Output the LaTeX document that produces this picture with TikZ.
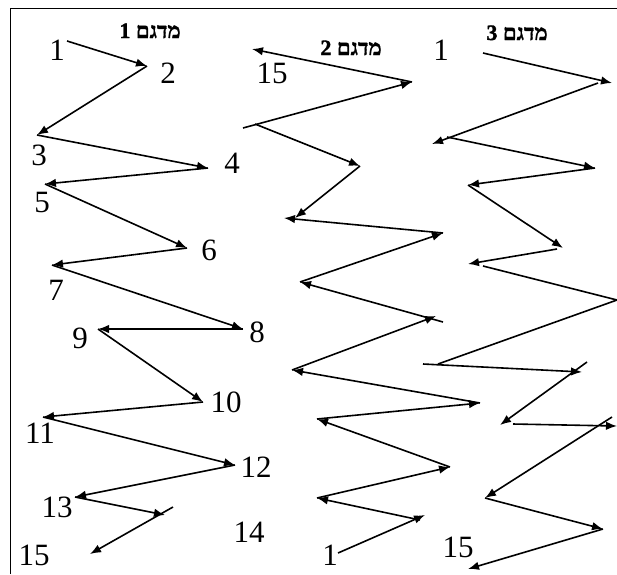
\documentclass[tikz,border=0pt]{standalone}
\usepackage{fontspec}
\setmainfont{Liberation Serif}
\newfontfamily\hebfont[Script=Hebrew,FakeBold=1.5]{Liberation Serif Bold}
\TeXXeTstate=1
\usetikzlibrary{arrows.meta}
\begin{document}
\begin{tikzpicture}[x=1pt,y=-1pt,
  ln/.style={line width=1.6pt},
  arr/.style={line width=1.6pt,-{Latex[length=11pt,width=8.5pt]}},
  num/.style={anchor=base,inner sep=0pt,font=\fontsize{31}{31}\selectfont},
  ttl/.style={anchor=base,inner sep=0pt,font=\hebfont\fontsize{22}{22}\selectfont}]
\useasboundingbox (0,0) rectangle (617,574);
% frame
\coordinate (fb) at (10,574);
\coordinate (ftl) at (10,8);
\coordinate (ftr) at (617,8);
\draw[line width=1pt] (fb) -- (ftl) -- (ftr);
% titles
\node[ttl] (t1) at (150,38) {\beginR מדגם 1\endR};
\node[ttl] (t2) at (351,55) {\beginR מדגם 2\endR};
\node[ttl] (t3) at (517,40) {\beginR מדגם 3\endR};
% ---------- pattern 1 ----------
\node[num] (n1) at (57,60) {1};
\node[num] (n2) at (168,83) {2};
\node[num] (n3) at (39,165) {3};
\node[num] (n4) at (232,173) {4};
\node[num] (n5) at (42,212) {5};
\node[num] (n6) at (209,260) {6};
\node[num] (n7) at (56,300) {7};
\node[num] (n8) at (257,342) {8};
\node[num] (n9) at (80,348) {9};
\node[num] (n10) at (226,412) {10};
\node[num] (n11) at (40,443) {11};
\node[num] (n12) at (256,477) {12};
\node[num] (n13) at (57,517) {13};
\node[num] (n14) at (249,542) {14};
\node[num] (n15) at (34,565) {15};
\coordinate (a1) at (67,41);
\coordinate (a2) at (147,66);
\coordinate (a3) at (37,135);
\coordinate (a4) at (208,168);
\coordinate (a5) at (45,184);
\coordinate (a6) at (187,248);
\coordinate (a7) at (52,265);
\coordinate (a8) at (243,329);
\coordinate (a9) at (98,329);
\coordinate (a10) at (203,402);
\coordinate (a11) at (43,417);
\coordinate (a12) at (235,465);
\coordinate (a13) at (75,497);
\coordinate (a14) at (165,515);
\coordinate (a14s) at (173,507);
\coordinate (a15) at (90,554);
\draw[arr] (a1) -- (a2);
\draw[arr] (a2) -- (a3);
\draw[arr] (a3) -- (a4);
\draw[arr] (a4) -- (a5);
\draw[arr] (a5) -- (a6);
\draw[arr] (a6) -- (a7);
\draw[arr] (a7) -- (a8);
\draw[arr] (a8) -- (a9);
\draw[arr] (a9) -- (a10);
\draw[arr] (a10) -- (a11);
\draw[arr] (a11) -- (a12);
\draw[arr] (a12) -- (a13);
\draw[arr] (a13) -- (a14);
\draw[arr] (a14s) -- (a15);
% ---------- pattern 2 ----------
\node[num] (m15) at (272,83) {15};
\node[num] (m1) at (330,565) {1};
\coordinate (b1) at (338,553);
\coordinate (b2) at (425,515);
\coordinate (b2s) at (420,520);
\coordinate (b3) at (317,498);
\coordinate (b4) at (450,467);
\coordinate (b5) at (317,419);
\coordinate (b6) at (480,403);
\coordinate (b7) at (292,370);
\coordinate (b8) at (436,316);
\coordinate (b8s) at (443,322);
\coordinate (b9) at (300,282);
\coordinate (b10) at (443,233);
\coordinate (b11) at (284,218);
\coordinate (b11s) at (295,218);
\coordinate (b12) at (360,166);
\coordinate (b12s) at (255,124);
\coordinate (b13) at (243,128);
\coordinate (b14) at (412,82);
\coordinate (b15) at (252,49);
\draw[arr] (b1) -- (b2);
\draw[arr] (b2s) -- (b3);
\draw[arr] (b3) -- (b4);
\draw[arr] (b4) -- (b5);
\draw[arr] (b5) -- (b6);
\draw[arr] (b6) -- (b7);
\draw[arr] (b7) -- (b8);
\draw[arr] (b8s) -- (b9);
\draw[arr] (b9) -- (b10);
\draw[arr] (b10) -- (b11);
\draw[arr] (b12) -- (b11s);
\draw[arr] (b12s) -- (b12);
\draw[arr] (b13) -- (b14);
\draw[arr] (b14) -- (b15);
% ---------- pattern 3 ----------
\node[num] (k1) at (441,60) {1};
\node[num] (k15) at (458,557) {15};
\coordinate (c1) at (483,53);
\coordinate (c2) at (612,83);
\coordinate (c2s) at (598,83);
\coordinate (c3) at (432,144);
\coordinate (c3s) at (447,137);
\coordinate (c4) at (595,168);
\coordinate (c5) at (468,185);
\coordinate (c6) at (563,248);
\coordinate (c6s) at (557,249);
\coordinate (c7) at (468,264);
\coordinate (c7s) at (483,266);
\coordinate (c8) at (617,300);
\coordinate (c9) at (438,364);
\coordinate (c9s) at (423,364);
\coordinate (c10) at (582,372);
\coordinate (c10s) at (587,362);
\coordinate (c11) at (500,425);
\coordinate (c11s) at (513,424);
\coordinate (c12) at (617,426);
\coordinate (c12s) at (612,417);
\coordinate (c13) at (485,498);
\coordinate (c14) at (603,529);
\coordinate (c15) at (468,569);
\draw[arr] (c1) -- (c2);
\draw[arr] (c2s) -- (c3);
\draw[arr] (c3s) -- (c4);
\draw[arr] (c4) -- (c5);
\draw[arr] (c5) -- (c6);
\draw[arr] (c6s) -- (c7);
\draw[ln] (c7s) -- (c8) -- (c9);
\draw[arr] (c9s) -- (c10);
\draw[arr] (c10s) -- (c11);
\draw[arr] (c11s) -- (c12);
\draw[arr] (c12s) -- (c13);
\draw[arr] (c13) -- (c14);
\draw[arr] (c14) -- (c15);
\end{tikzpicture}
\end{document}
